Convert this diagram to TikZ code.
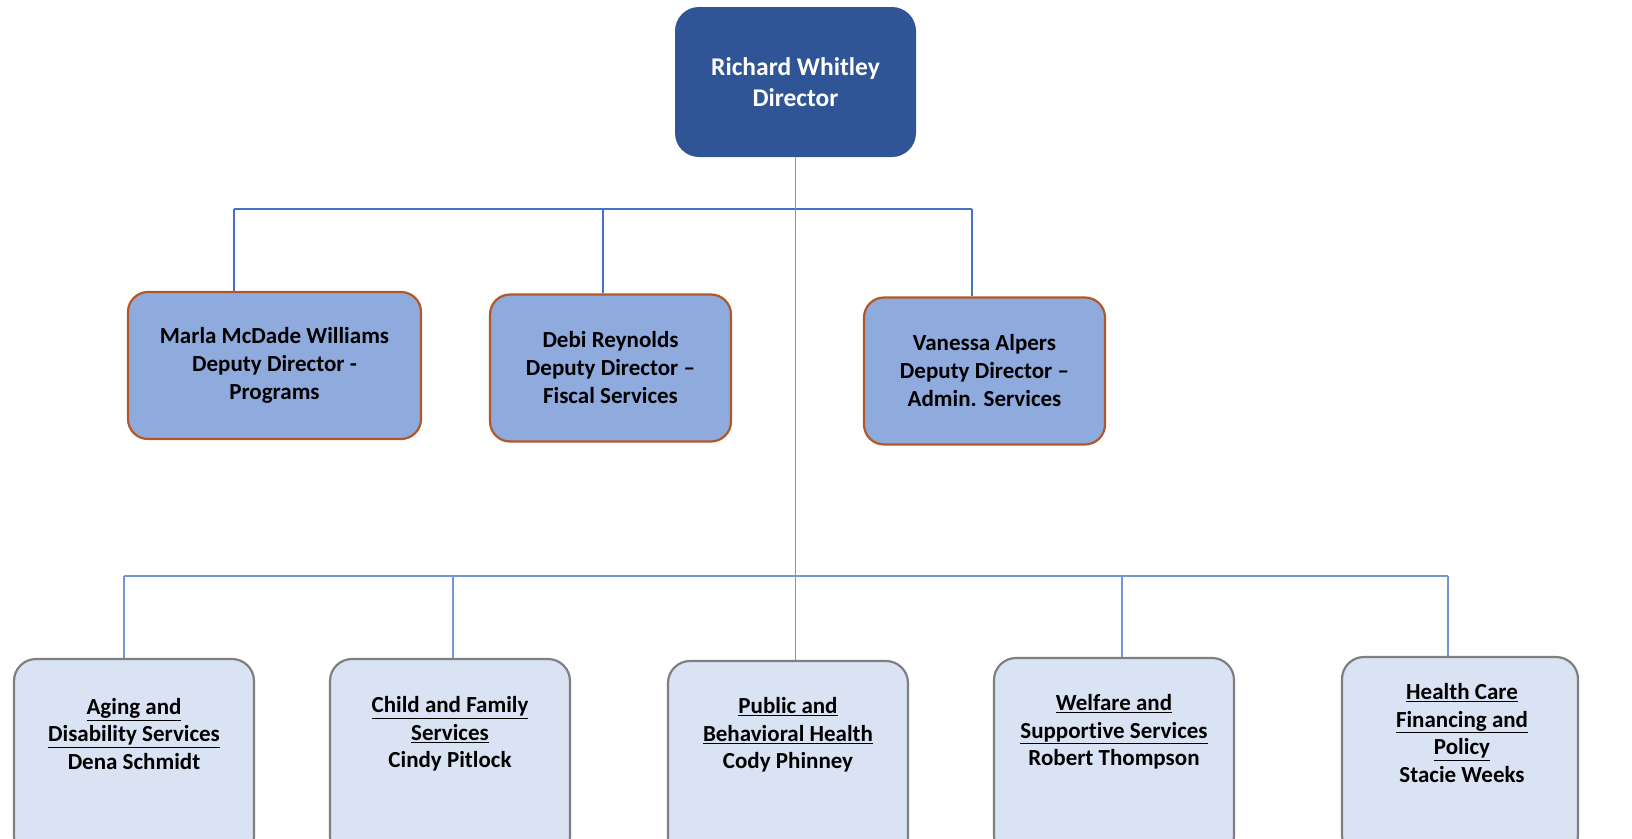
\documentclass[tikz,border=0pt]{standalone}
\usepackage{fontspec}
\setmainfont{Carlito}[Ligatures={NoCommon,NoContextual}]
\definecolor{dirblue}{HTML}{2F5597}
\definecolor{depfill}{HTML}{8FAADC}
\definecolor{depborder}{HTML}{B0582A}
\definecolor{divfill}{HTML}{DAE3F3}
\definecolor{divborder}{HTML}{7F7F7F}
\definecolor{linkup}{HTML}{4472C4}
\definecolor{linklow}{HTML}{7396D8}
\begin{document}
\begin{tikzpicture}[x=1pt,y=-1pt,
  dirbox/.style={fill=dirblue, rounded corners=24pt, minimum width=241pt, minimum height=150pt,
    text=white, font=\fontsize{25.5}{31}\selectfont\bfseries, align=center, inner sep=0pt},
  depbox/.style={draw=depborder, line width=2.2pt, fill=depfill, rounded corners=20pt,
    minimum height=147pt, font=\fontsize{23}{28}\selectfont\bfseries, align=center, inner sep=0pt},
  divbox/.style={draw=divborder, line width=2.2pt, fill=divfill, rounded corners=22pt,
    minimum width=240pt, minimum height=200pt, inner sep=0pt},
  divtext/.style={font=\fontsize{23}{27.5}\selectfont\bfseries, align=center, inner sep=0pt},
  uplink/.style={draw=linkup, line width=1.3pt},
  lowlink/.style={draw=linklow, line width=1.3pt}]
\useasboundingbox (0,0) rectangle (1632,838);
\clip (0,0) rectangle (1632,838);

% director
\node[dirbox] (dir) at (795.5,82) {Richard Whi\kern0pt tley\\Director};

% deputies
\node[depbox, minimum width=293pt] (marla) at (274.5,365.5) {Marla McDade Williams\\Deputy Director -\\Programs};
\node[depbox, minimum width=241pt] (debi) at (610.5,368) {Debi Reynolds\\Deputy Director --\\Fiscal Services};
\node[depbox, minimum width=241pt] (vanessa) at (984.5,371) {Vanessa Alpers\\Deputy Director --\\Admin. Services};

% divisions
\node[divbox] (aging) at (134,759) {};
\node[divbox] (child) at (450,759) {};
\node[divbox] (public) at (788,761) {};
\node[divbox] (welfare) at (1114,758) {};
\node[divbox, minimum width=236pt] (health) at (1460,757) {};

\node[divtext] (agingt) at (134,734) {\underline{Aging and}\\\underline{Disability Services}\\Dena Schmidt};
\node[divtext] (childt) at (450,734) {\underline{Child and Family}\\\underline{Services}\\Cindy Pitlock};
\node[divtext] (publict) at (788,735) {\underline{Public and}\\\underline{Behavioral Health}\\Cody Phinney};
\node[divtext] (welfaret) at (1114,732) {\underline{Welfare and}\\\underline{Suppor\kern0pt tive Services}\\Robert Thompson};
\node[divtext] (healtht) at (1462,733) {\underline{Health Care}\\\underline{Financing and}\\\underline{Policy}\\Stacie Weeks};

% connectors
\coordinate (ua) at (234,209);
\coordinate (ub) at (603,209);
\coordinate (uc) at (972,209);
\coordinate (la) at (124,576);
\coordinate (lb) at (453,576);
\coordinate (ld) at (1122,576);
\coordinate (le) at (1448,576);

\draw[uplink] (ua) -- (uc);
\draw[uplink] (ua) -- (ua |- marla.north);
\draw[uplink] (ub) -- (ub |- debi.north);
\draw[uplink] (uc) -- (uc |- vanessa.north);
\draw[lowlink] (dir.south) -- (dir.south |- public.north);
\draw[lowlink] (la) -- (le);
\draw[lowlink] (la) -- (la |- aging.north);
\draw[lowlink] (lb) -- (lb |- child.north);
\draw[lowlink] (ld) -- (ld |- welfare.north);
\draw[lowlink] (le) -- (le |- health.north);
\end{tikzpicture}
\end{document}
